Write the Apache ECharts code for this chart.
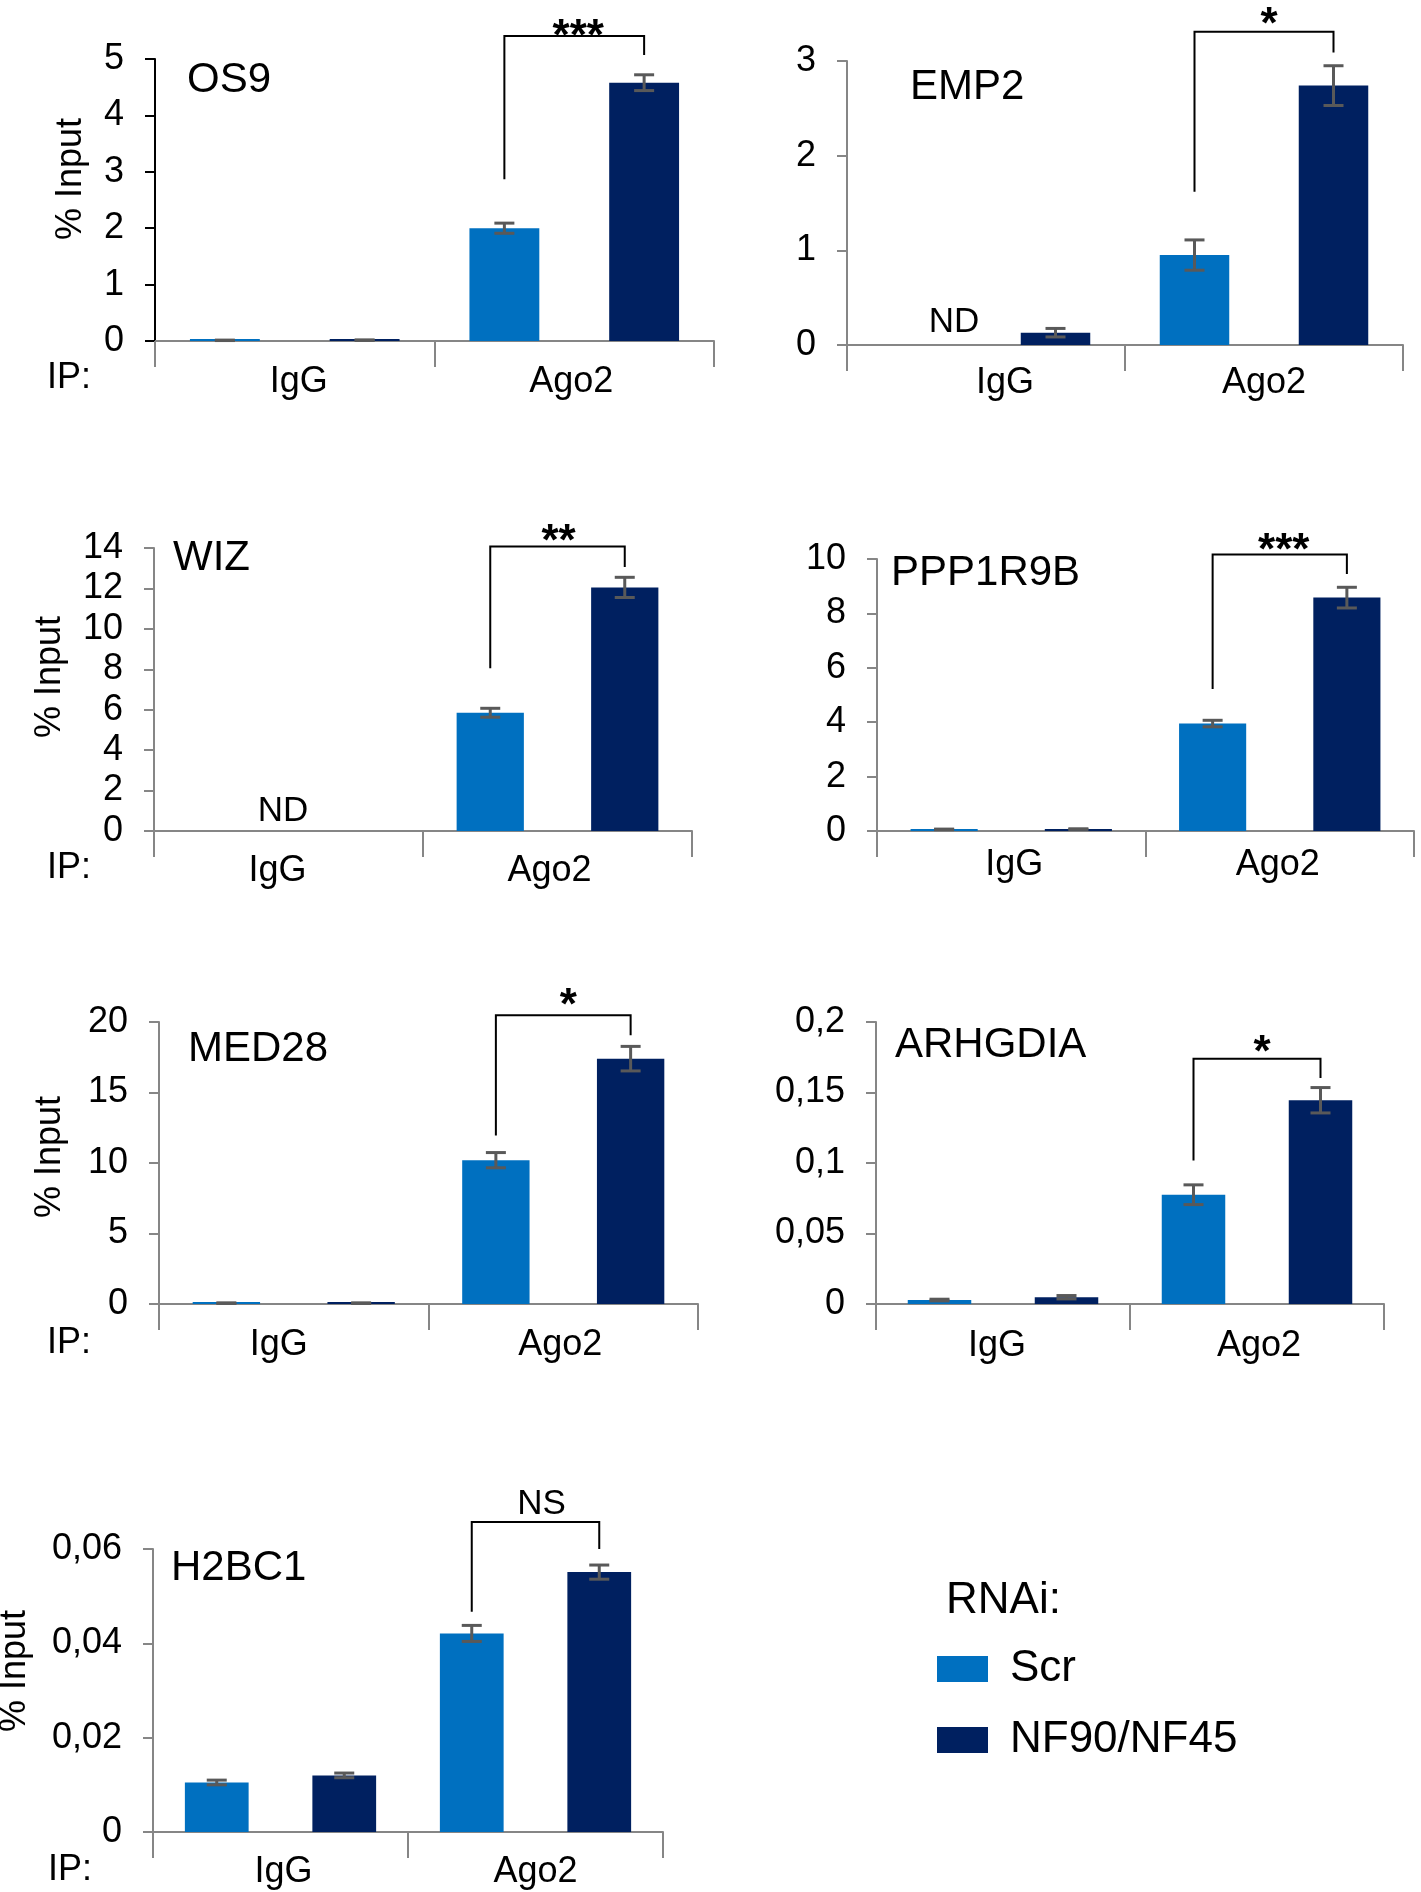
<!DOCTYPE html>
<html>
<head>
<meta charset="utf-8">
<script src="https://cdn.jsdelivr.net/npm/echarts@6/dist/echarts.min.js"></script>
<style>
html,body{margin:0;padding:0;background:#fff;}
#c{width:1421px;height:1892px;}
</style>
</head>
<body>
<div id="c"></div>
<script>
// ---------------- DATA ----------------
const categories = ['IgG', 'Ago2'];
const seriesNames = ['Scr', 'NF90/NF45'];
const legendTitle = 'RNAi:';

// OS9
const os9Ticks = [0, 1, 2, 3, 4, 5];
const os9Scr = [0.012, 2.0];
const os9ScrErr = [0.004, 0.09];
const os9Nf = [0.015, 4.58];
const os9NfErr = [0.004, 0.14];
const os9Bracket = [2.87, 5.41, 5.07, 5.57]; // left foot, top, right foot, label centre
const os9Sig = '***';

// EMP2
const emp2Ticks = [0, 1, 2, 3];
const emp2Scr = [null, 0.95];
const emp2ScrErr = [null, 0.16];
const emp2Nf = [0.13, 2.74];
const emp2NfErr = [0.045, 0.21];
const emp2Bracket = [1.62, 3.31, 3.09, 3.48];
const emp2Sig = '*';
const emp2Nd = [[0, 0.24, -0.115]]; // category, value, offset (fraction of band)

// WIZ
const wizTicks = [0, 2, 4, 6, 8, 10, 12, 14];
const wizScr = [null, 5.85];
const wizScrErr = [null, 0.22];
const wizNf = [null, 12.05];
const wizNfErr = [null, 0.5];
const wizBracket = [8.05, 14.08, 13.06, 14.8];
const wizSig = '**';
const wizNd = [[0, 0.98, -0.02]];

// PPP1R9B
const pppTicks = [0, 2, 4, 6, 8, 10];
const pppScr = [0.06, 3.95];
const pppScrErr = [0.01, 0.12];
const pppNf = [0.07, 8.58];
const pppNfErr = [0.01, 0.38];
const pppBracket = [5.22, 10.17, 9.45, 10.64];
const pppSig = '***';

// MED28
const med28Ticks = [0, 5, 10, 15, 20];
const med28Scr = [0.06, 10.2];
const med28ScrErr = [0.02, 0.54];
const med28Nf = [0.06, 17.4];
const med28NfErr = [0.02, 0.87];
const med28Bracket = [11.95, 20.48, 19.06, 21.8];
const med28Sig = '*';

// ARHGDIA
const arhTicks = [0, 0.05, 0.1, 0.15, 0.2];
const arhScr = [0.0028, 0.0775];
const arhScrErr = [0.0006, 0.007];
const arhNf = [0.0048, 0.1445];
const arhNfErr = [0.0012, 0.009];
const arhBracket = [0.1018, 0.174, 0.1603, 0.185];
const arhSig = '*';

// H2BC1
const h2bTicks = [0, 0.02, 0.04, 0.06];
const h2bScr = [0.0105, 0.0421];
const h2bScrErr = [0.0005, 0.0017];
const h2bNf = [0.012, 0.0551];
const h2bNfErr = [0.0005, 0.0015];
const h2bBracket = [0.0467, 0.0657, 0.060, 0.0694];
const h2bSig = 'NS';

const yTitle = '% Input';
const ipLabel = 'IP:';

// ---------------- LAYOUT / STYLE ----------------
const FONT = "'Liberation Sans', Arial, Helvetica, sans-serif";
const SCR_COLOR = '#0070C0';
const NF_COLOR = '#002060';
const AXIS_GRAY = '#868686';
const ERR_COLOR = '#595959';

const panels = [
  {title:'OS9', ticks:os9Ticks, scr:os9Scr, scrErr:os9ScrErr, nf:os9Nf, nfErr:os9NfErr, bracket:os9Bracket, sig:os9Sig, nd:[],
   grid:{left:155, top:59, width:559, height:282}, titlePos:[187, 80], yNamePos:[71, 179], ipPos:[47, 378],
   catMargin:23, catShift:[4, -3], sigDx:4, yColor:'#000'},
  {title:'EMP2', ticks:emp2Ticks, scr:emp2Scr, scrErr:emp2ScrErr, nf:emp2Nf, nfErr:emp2NfErr, bracket:emp2Bracket, sig:emp2Sig, nd:emp2Nd,
   grid:{left:847, top:61, width:556, height:284}, titlePos:[910, 87], yNamePos:null, ipPos:null,
   catMargin:20, catShift:[19, 0], sigDx:5, yColor:AXIS_GRAY},
  {title:'WIZ', ticks:wizTicks, scr:wizScr, scrErr:wizScrErr, nf:wizNf, nfErr:wizNfErr, bracket:wizBracket, sig:wizSig, nd:wizNd,
   grid:{left:154, top:548, width:538, height:283}, titlePos:[173, 558], yNamePos:[50, 677], ipPos:[47, 868],
   catMargin:22, catShift:[-11, -8], sigDx:1, yColor:AXIS_GRAY},
  {title:'PPP1R9B', ticks:pppTicks, scr:pppScr, scrErr:pppScrErr, nf:pppNf, nfErr:pppNfErr, bracket:pppBracket, sig:pppSig, nd:[],
   grid:{left:877, top:559, width:537, height:272}, titlePos:[891, 573], yNamePos:null, ipPos:null,
   catMargin:16, catShift:[3, -2], sigDx:4, yColor:AXIS_GRAY},
  {title:'MED28', ticks:med28Ticks, scr:med28Scr, scrErr:med28ScrErr, nf:med28Nf, nfErr:med28NfErr, bracket:med28Bracket, sig:med28Sig, nd:[],
   grid:{left:159, top:1022, width:539, height:282}, titlePos:[188, 1049], yNamePos:[50, 1157], ipPos:[47, 1343],
   catMargin:23, catShift:[-15, -3], sigDx:5, yColor:AXIS_GRAY},
  {title:'ARHGDIA', ticks:arhTicks, scr:arhScr, scrErr:arhScrErr, nf:arhNf, nfErr:arhNfErr, bracket:arhBracket, sig:arhSig, nd:[],
   grid:{left:876, top:1022, width:508, height:282}, titlePos:[895, 1045], yNamePos:null, ipPos:null,
   catMargin:24, catShift:[-6, 2], sigDx:5, yColor:AXIS_GRAY},
  {title:'H2BC1', ticks:h2bTicks, scr:h2bScr, scrErr:h2bScrErr, nf:h2bNf, nfErr:h2bNfErr, bracket:h2bBracket, sig:h2bSig, nd:[],
   grid:{left:153, top:1549, width:510, height:283}, titlePos:[171, 1568], yNamePos:[15, 1671], ipPos:[48, 1870],
   catMargin:22, catShift:[3, 0], sigDx:6, yColor:AXIS_GRAY}
];

function fmt(v) {
  return String(+(+v).toFixed(4)).replace('.', ',');
}

function errRender(sign) {
  return function (params, api) {
    const x = api.value(0), v = api.value(1), e = api.value(2);
    const band = api.size([1, 0])[0];
    const hi = api.coord([x, v + e]);
    const lo = api.coord([x, Math.max(0, v - e)]);
    const cx = hi[0] + sign * band * 0.25;
    const cap = 10;
    const st = {stroke: ERR_COLOR, lineWidth: 3};
    return {type: 'group', children: [
      {type: 'line', shape: {x1: cx, y1: hi[1], x2: cx, y2: lo[1]}, style: st},
      {type: 'line', shape: {x1: cx - cap, y1: hi[1], x2: cx + cap, y2: hi[1]}, style: st},
      {type: 'line', shape: {x1: cx - cap, y1: lo[1], x2: cx + cap, y2: lo[1]}, style: st}
    ]};
  };
}

function bracketRender(label, dx) {
  return function (params, api) {
    const x = api.value(0);
    const band = api.size([1, 0])[0];
    const pL = api.coord([x, api.value(1)]);
    const pT = api.coord([x, api.value(2)]);
    const pR = api.coord([x, api.value(3)]);
    const pLab = api.coord([x, api.value(4)]);
    const xL = pL[0] - band * 0.25, xR = pL[0] + band * 0.25;
    const isStar = /^\*+$/.test(label);
    const fs = isStar ? 44 : 35;
    const ty = pLab[1] + (isStar ? 0.24 * fs : 0);
    const font = (isStar ? 'bold ' : '') + fs + 'px ' + FONT;
    return {type: 'group', children: [
      {type: 'polyline', shape: {points: [[xL, pL[1]], [xL, pT[1]], [xR, pT[1]], [xR, pR[1]]]},
       style: {stroke: '#000', lineWidth: 2, fill: null}},
      {type: 'text', x: (xL + xR) / 2 + dx, y: ty,
       style: {text: label, fill: '#000', font: font,
               align: 'center', verticalAlign: 'middle', textAlign: 'center', textVerticalAlign: 'middle'}}
    ]};
  };
}

function ndRender(params, api) {
  const x = api.value(0);
  const band = api.size([1, 0])[0];
  const p = api.coord([x, api.value(1)]);
  return {type: 'text', x: p[0] + api.value(2) * band, y: p[1],
    style: {text: 'ND', fill: '#000', font: '35px ' + FONT,
            align: 'center', verticalAlign: 'middle', textAlign: 'center', textVerticalAlign: 'middle'}};
}

const grids = [], xAxes = [], yAxes = [], series = [], graphics = [];

function textEl(text, x, y, size) {
  return {type: 'text', x: x, y: y,
    style: {text: text, fill: '#000', font: size + 'px ' + FONT,
            align: 'left', verticalAlign: 'middle', textAlign: 'left', textVerticalAlign: 'middle'}};
}

panels.forEach(function (p, i) {
  grids.push(Object.assign({outerBoundsMode: 'none', containLabel: false}, p.grid));
  const rich = {};
  p.catShift.forEach(function (o, k) {
    rich['c' + k] = {fontSize: 36, fontFamily: FONT, color: '#000',
      padding: o >= 0 ? [0, 0, 0, 2 * o] : [0, -2 * o, 0, 0]};
  });
  xAxes.push({
    type: 'category', gridIndex: i, data: categories,
    axisLine: {show: true, onZero: true, lineStyle: {color: AXIS_GRAY, width: 2}},
    axisTick: {show: true, length: 26, alignWithLabel: false, lineStyle: {color: AXIS_GRAY, width: 2}},
    axisLabel: {color: '#000', fontSize: 36, fontFamily: FONT, margin: p.catMargin, rich: rich,
      formatter: function (v, idx) { return '{c' + idx + '|' + v + '}'; }},
    splitLine: {show: false}
  });
  const t = p.ticks;
  yAxes.push({
    type: 'value', gridIndex: i, min: t[0], max: t[t.length - 1], interval: t[1] - t[0],
    splitLine: {show: false},
    axisLine: {show: true, lineStyle: {color: p.yColor, width: 2}},
    axisTick: {show: true, length: 10, lineStyle: {color: p.yColor, width: 2}},
    axisLabel: {color: '#000', fontSize: 36, fontFamily: FONT, margin: 31, formatter: fmt}
  });
  series.push({type: 'bar', name: seriesNames[0], xAxisIndex: i, yAxisIndex: i, data: p.scr,
    barWidth: '25%', barGap: '100%', barMinHeight: 2, itemStyle: {color: SCR_COLOR}, z: 2});
  series.push({type: 'bar', name: seriesNames[1], xAxisIndex: i, yAxisIndex: i, data: p.nf,
    barWidth: '25%', barGap: '100%', barMinHeight: 2, itemStyle: {color: NF_COLOR}, z: 2});

  const scrE = [], nfE = [];
  categories.forEach(function (c, k) {
    if (p.scr[k] != null && p.scrErr[k] != null) scrE.push([k, p.scr[k], p.scrErr[k]]);
    if (p.nf[k] != null && p.nfErr[k] != null) nfE.push([k, p.nf[k], p.nfErr[k]]);
  });
  series.push({type: 'custom', xAxisIndex: i, yAxisIndex: i, data: scrE, renderItem: errRender(-1), z: 5, clip: false});
  series.push({type: 'custom', xAxisIndex: i, yAxisIndex: i, data: nfE, renderItem: errRender(1), z: 5, clip: false});
  series.push({type: 'custom', xAxisIndex: i, yAxisIndex: i,
    data: [[1, p.bracket[0], p.bracket[1], p.bracket[2], p.bracket[3]]],
    renderItem: bracketRender(p.sig, p.sigDx), z: 6, clip: false});
  if (p.nd.length) {
    series.push({type: 'custom', xAxisIndex: i, yAxisIndex: i, data: p.nd, renderItem: ndRender, z: 6, clip: false});
  }

  graphics.push(textEl(p.title, p.titlePos[0], p.titlePos[1], 42));
  if (p.yNamePos) {
    graphics.push({type: 'text', x: p.yNamePos[0], y: p.yNamePos[1], rotation: Math.PI / 2,
      style: {text: yTitle, fill: '#000', font: '36px ' + FONT,
              align: 'center', verticalAlign: 'middle', textAlign: 'center', textVerticalAlign: 'middle'}});
  }
  if (p.ipPos) graphics.push(textEl(ipLabel, p.ipPos[0], p.ipPos[1], 36));
});

graphics.push(textEl(legendTitle, 946, 1601, 44));

const chart = echarts.init(document.getElementById('c'), null, {renderer: 'canvas'});
chart.setOption({
  animation: false,
  backgroundColor: '#fff',
  grid: grids,
  xAxis: xAxes,
  yAxis: yAxes,
  series: series,
  graphic: graphics,
  legend: {
    orient: 'vertical', left: 932, top: 1642, itemWidth: 51, itemHeight: 26, itemGap: 27,
    icon: 'rect', data: seriesNames, selectedMode: false,
    textStyle: {fontSize: 44, fontFamily: FONT, color: '#000', padding: [0, 0, 0, 17]}
  },
  tooltip: {show: false}
});
</script>
</body>
</html>
